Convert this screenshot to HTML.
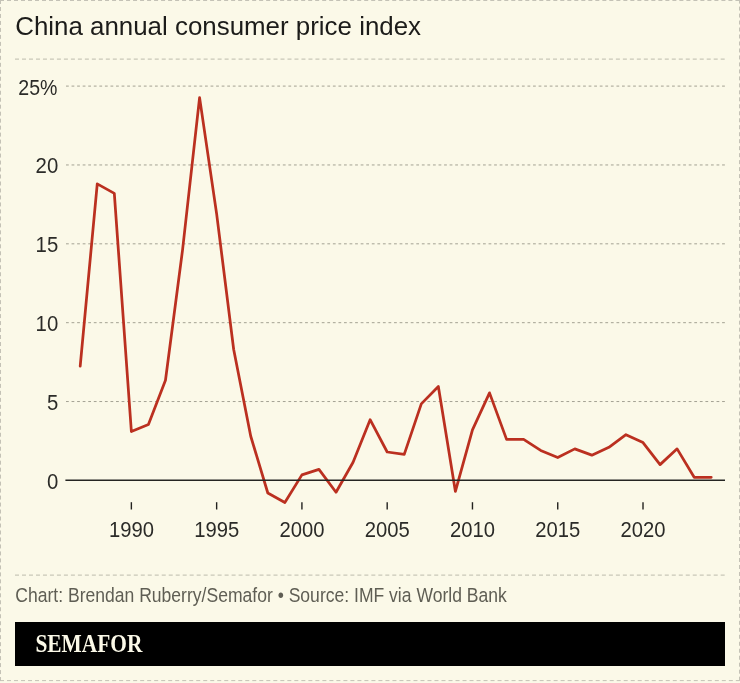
<!DOCTYPE html>
<html><head><meta charset="utf-8"><style>
html,body{margin:0;padding:0;background:#fbf9e8;}
body{width:740px;height:683px;overflow:hidden;position:relative;}
svg{position:absolute;left:0;top:0;display:block;will-change:transform;}
text{font-family:"Liberation Sans",sans-serif;}
.grid{stroke:#a4a293;stroke-width:1;stroke-dasharray:2.78 2.78;}
.sep{stroke:#c9c7b8;stroke-width:1.25;stroke-dasharray:4 2.987;}
.bd{stroke:#c4c2b6;stroke-width:1;stroke-dasharray:4 3;}
.yl{font-size:22px;fill:#2b2b28;text-anchor:end;}
.xl{font-size:22px;fill:#2b2b28;text-anchor:middle;}
.tick{stroke:#22221f;stroke-width:1.4;}
</style></head><body>
<svg width="740" height="683" viewBox="0 0 740 683">
<rect x="0" y="0" width="740" height="683" fill="#fbf9e8"/>
<line x1="0" x2="740" y1="0.5" y2="0.5" class="bd" style="stroke-dasharray:4 3.004"/>
<line x1="0" x2="740" y1="680.6" y2="680.6" class="bd" style="stroke-dasharray:4 3.008"/>
<line x1="0.5" x2="0.5" y1="0" y2="681" class="bd" style="stroke-dasharray:4 2.98"/>
<line x1="739.5" x2="739.5" y1="0" y2="681" class="bd" style="stroke-dasharray:4 2.98;stroke-dashoffset:0.4"/>
<text x="15.2" y="35" style="font-size:25.9px;fill:#1c1c1a;">China annual consumer price index</text>
<line x1="15" x2="725" y1="59.05" y2="59.05" class="sep"/>
<line x1="66" x2="725" y1="401.54" y2="401.54" class="grid"/>
<line x1="66" x2="725" y1="322.68" y2="322.68" class="grid"/>
<line x1="66" x2="725" y1="243.82" y2="243.82" class="grid"/>
<line x1="66" x2="725" y1="164.96" y2="164.96" class="grid"/>
<line x1="66" x2="725" y1="86.10" y2="86.10" class="grid"/>

<text transform="translate(58.25 488.60) scale(0.925 1)" class="yl">0</text>
<text transform="translate(58.25 409.74) scale(0.925 1)" class="yl">5</text>
<text transform="translate(58.25 330.88) scale(0.925 1)" class="yl">10</text>
<text transform="translate(58.25 252.02) scale(0.925 1)" class="yl">15</text>
<text transform="translate(58.25 173.16) scale(0.925 1)" class="yl">20</text>
<text transform="translate(57.5 94.80) scale(0.89 1)" class="yl">25%</text>

<line x1="131.37" x2="131.37" y1="502.2" y2="509.5" class="tick"/>
<text transform="translate(131.47 537) scale(0.92 1)" class="xl">1990</text>
<line x1="216.64" x2="216.64" y1="502.2" y2="509.5" class="tick"/>
<text transform="translate(216.74 537) scale(0.92 1)" class="xl">1995</text>
<line x1="301.92" x2="301.92" y1="502.2" y2="509.5" class="tick"/>
<text transform="translate(302.02 537) scale(0.92 1)" class="xl">2000</text>
<line x1="387.19" x2="387.19" y1="502.2" y2="509.5" class="tick"/>
<text transform="translate(387.29 537) scale(0.92 1)" class="xl">2005</text>
<line x1="472.46" x2="472.46" y1="502.2" y2="509.5" class="tick"/>
<text transform="translate(472.56 537) scale(0.92 1)" class="xl">2010</text>
<line x1="557.74" x2="557.74" y1="502.2" y2="509.5" class="tick"/>
<text transform="translate(557.84 537) scale(0.92 1)" class="xl">2015</text>
<line x1="643.01" x2="643.01" y1="502.2" y2="509.5" class="tick"/>
<text transform="translate(643.12 537) scale(0.92 1)" class="xl">2020</text>

<polyline points="80.20,366.05 97.25,183.89 114.31,193.35 131.37,431.51 148.42,424.41 165.48,380.25 182.53,250.13 199.58,97.61 216.64,213.85 233.69,349.49 250.75,436.24 267.81,493.02 284.86,502.48 301.92,474.88 318.97,469.36 336.02,492.23 353.08,462.26 370.13,419.68 387.19,452.01 404.25,454.38 421.30,403.91 438.35,386.56 455.41,491.44 472.46,429.93 489.52,392.87 506.57,439.39 523.63,439.39 540.69,450.43 557.74,457.53 574.79,448.86 591.85,455.16 608.91,447.28 625.96,434.66 643.01,442.55 660.07,464.63 677.12,448.86 694.18,477.25 711.24,477.25" fill="none" stroke="#bb3020" stroke-width="2.75" stroke-linejoin="round" stroke-linecap="round"/>
<line x1="65.4" x2="725" y1="480.25" y2="480.25" style="stroke:#252522;stroke-width:1.35"/>
<line x1="15" x2="725" y1="575.2" y2="575.2" class="sep"/>
<text transform="translate(15.3 602.3) scale(0.9 1)" style="font-size:19.5px;fill:#5f5e54;">Chart: Brendan Ruberry/Semafor • Source: IMF via World Bank</text>
<rect x="15" y="622" width="710" height="44" fill="#000"/>
<text x="35.4" y="652.3" textLength="107" lengthAdjust="spacingAndGlyphs" style="font-family:'Liberation Serif',serif;font-weight:bold;font-size:25.5px;fill:#fbf9e8;">SEMAFOR</text>
</svg>
</body></html>
